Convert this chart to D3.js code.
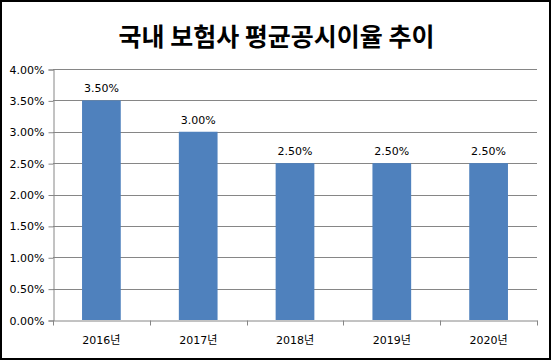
<!DOCTYPE html>
<html>
<head>
<meta charset="utf-8">
<script src="https://cdn.jsdelivr.net/npm/d3@7"></script>
<style>
  body { margin: 0; background: #fff; }
  text { font-family: Tahoma, "DejaVu Sans", "Noto Sans CJK KR", sans-serif; }
</style>
</head>
<body>
<div id="chart"></div>
<script>
// chart data
var title = '국내 보험사 평균공시이율 추이';
var categories = ['2016년', '2017년', '2018년', '2019년', '2020년'];
var values = [3.5, 3.0, 2.5, 2.5, 2.5];
var y_ticks = [0, 0.5, 1.0, 1.5, 2.0, 2.5, 3.0, 3.5, 4.0];

var chart_width = 553;
var chart_height = 362;
var plot_left = 53, plot_right = 537, plot_top = 69, plot_bottom = 320;

var svg = d3.select('#chart')
  .append('svg')
  .attr('width', chart_width)
  .attr('height', chart_height);

// outer frame
svg.append('rect')
  .attr('x', 1).attr('y', 1)
  .attr('width', chart_width - 4).attr('height', chart_height - 4)
  .attr('fill', 'white')
  .attr('stroke', 'black')
  .attr('stroke-width', 2);

svg.append('text')
  .text(title)
  .attr('x', chart_width / 2)
  .attr('y', 46)
  .attr('text-anchor', 'middle')
  .style('font-family', '"Noto Sans CJK KR", sans-serif')
  .style('font-weight', 'bold')
  .style('font-size', '25px')
  .attr('fill', 'black');

// scales
var x_scale = d3.scaleBand()
  .domain(categories)
  .range([plot_left, plot_right])
  .paddingInner(0.6)
  .paddingOuter(0.3);

var x_outer = d3.scaleBand()
  .domain(categories)
  .range([plot_left, plot_right]);

var y_scale = d3.scaleLinear()
  .domain([0, 4])
  .range([plot_bottom, plot_top]);

// gridlines
svg.selectAll('.grid')
  .data(y_ticks.slice(1))
  .enter()
  .append('line')
  .attr('x1', plot_left).attr('x2', plot_right)
  .attr('y1', (d) => Math.round(y_scale(d)) + 0.5)
  .attr('y2', (d) => Math.round(y_scale(d)) + 0.5)
  .attr('stroke', '#868686')
  .attr('stroke-width', 1);

// y axis
var y_axis = d3.axisLeft(y_scale)
  .tickValues(y_ticks)
  .tickSize(5)
  .tickPadding(4)
  .tickFormat((d) => d.toFixed(2) + '%');

var gy = svg.append('g')
  .attr('transform', 'translate(' + (plot_left + 0.5) + ',0.5)')
  .call(y_axis);
gy.select('.domain').attr('stroke', '#868686');
gy.selectAll('.tick line').attr('stroke', '#868686');
gy.selectAll('.tick text')
  .style('font-size', '11px')
  .attr('fill', 'black');

// bars
svg.selectAll('.bar')
  .data(values)
  .enter()
  .append('rect')
  .attr('x', (d, i) => x_scale(categories[i]))
  .attr('y', (d) => y_scale(d))
  .attr('width', x_scale.bandwidth())
  .attr('height', (d) => plot_bottom - y_scale(d))
  .attr('fill', '#4f81bd');

// x axis
var x_axis = d3.axisBottom(x_outer)
  .tickSize(0)
  .tickPadding(16);

var gx = svg.append('g')
  .attr('transform', 'translate(0,' + (plot_bottom + 0.5) + ')')
  .call(x_axis);
gx.select('.domain').attr('stroke', '#868686');
gx.selectAll('.tick text')
  .style('font-size', '11px')
  .attr('fill', 'black');

// category separator ticks
var sep = categories.map((c) => x_outer(c)).concat([plot_right]);
gx.selectAll('.sep')
  .data(sep)
  .enter()
  .append('line')
  .attr('x1', (d) => Math.round(d) + 0.5)
  .attr('x2', (d) => Math.round(d) + 0.5)
  .attr('y1', 0).attr('y2', 5)
  .attr('stroke', '#868686');

// value labels
svg.selectAll('.label')
  .data(values)
  .enter()
  .append('text')
  .text((d) => d.toFixed(2) + '%')
  .attr('x', (d, i) => x_scale(categories[i]) + x_scale.bandwidth() / 2)
  .attr('y', (d) => y_scale(d) - 8)
  .attr('text-anchor', 'middle')
  .style('font-size', '11px')
  .attr('fill', 'black');
</script>
</body>
</html>
